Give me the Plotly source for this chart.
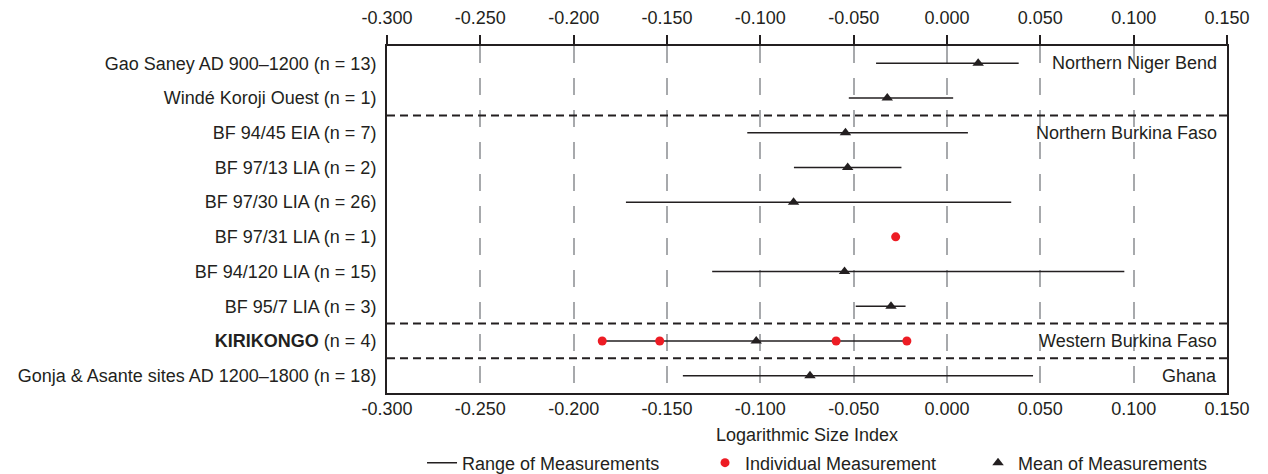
import plotly.graph_objects as go

# ---------------- data ----------------
sites = [
    "Gao Saney AD 900–1200 (n = 13)",
    "Windé Koroji Ouest (n = 1)",
    "BF 94/45 EIA (n = 7)",
    "BF 97/13 LIA (n = 2)",
    "BF 97/30 LIA (n = 26)",
    "BF 97/31 LIA (n = 1)",
    "BF 94/120 LIA (n = 15)",
    "BF 95/7 LIA (n = 3)",
    "<b>KIRIKONGO</b> (n = 4)",
    "Gonja & Asante sites AD 1200–1800 (n = 18)",
]
regions = [
    "Northern Niger Bend", "Northern Niger Bend",
    "Northern Burkina Faso", "Northern Burkina Faso", "Northern Burkina Faso",
    "Northern Burkina Faso", "Northern Burkina Faso", "Northern Burkina Faso",
    "Western Burkina Faso", "Ghana",
]
range_min = [-0.038, -0.0526, -0.107, -0.082, -0.172, None, -0.1258, -0.0489, -0.1847, -0.1415]
range_max = [0.0384, 0.0033, 0.0112, -0.0244, 0.0344, None, 0.095, -0.0222, -0.0215, 0.0461]
mean_vals = [0.0167, -0.032, -0.0544, -0.0532, -0.0822, None, -0.0549, -0.030, -0.1022, -0.0734]

indiv_sites = [5, 8, 8, 8, 8]
indiv_vals = [-0.0275, -0.1847, -0.1539, -0.0594, -0.0215]

x_ticks = [-0.30, -0.25, -0.20, -0.15, -0.10, -0.05, 0.0, 0.05, 0.10, 0.15]
x_ticktext = ["-0.300", "-0.250", "-0.200", "-0.150", "-0.100", "-0.050", "0.000", "0.050", "0.100", "0.150"]

# ---------------- styling ----------------
INK = "#231f20"
RED = "#ed1c24"
FONT = "Arial, Liberation Sans, sans-serif"

fig = go.Figure()

# range lines
lx, ly = [], []
for i, (a, b) in enumerate(zip(range_min, range_max)):
    if a is None:
        continue
    lx += [a, b, None]
    ly += [i, i, None]
fig.add_trace(go.Scatter(
    x=lx, y=ly, mode="lines", line=dict(color=INK, width=1.5),
    name="Range of Measurements", legend="legend", hoverinfo="skip",
))

# individual measurements
fig.add_trace(go.Scatter(
    x=indiv_vals, y=indiv_sites, mode="markers",
    marker=dict(color=RED, size=9, symbol="circle"),
    name="Individual Measurement", legend="legend2",
))

# means
mx = [m for m in mean_vals if m is not None]
my = [i for i, m in enumerate(mean_vals) if m is not None]
fig.add_trace(go.Scatter(
    x=mx, y=my, mode="markers",
    marker=dict(color=INK, size=10, symbol="triangle-up"),
    name="Mean of Measurements", legend="legend3",
))

# dummy trace for top axis
fig.add_trace(go.Scatter(x=[x_ticks[0]], y=[0], xaxis="x2", mode="markers",
                         marker=dict(opacity=0), showlegend=False, hoverinfo="skip"))

# region separators
shapes = []
for i in range(1, len(regions)):
    if regions[i] != regions[i - 1]:
        shapes.append(dict(type="line", xref="x domain", yref="y", x0=0, x1=1,
                           y0=i - 0.5, y1=i - 0.5,
                           line=dict(color=INK, width=2, dash="8px,5px"), layer="above"))

# region labels
annotations = []
for i, r in enumerate(regions):
    if i == 0 or regions[i - 1] != r:
        annotations.append(dict(text=r, xref="x domain", yref="y", x=1, y=i,
                                xanchor="right", yanchor="middle", xshift=-8,
                                showarrow=False, font=dict(family=FONT, size=18, color=INK)))

leg_common = dict(orientation="h", xref="paper", yref="paper",
                  xanchor="left", yanchor="middle", y=-0.2017,
                  font=dict(family=FONT, size=18, color=INK),
                  bgcolor="rgba(0,0,0,0)", borderwidth=0)

fig.update_layout(
    width=1260, height=466,
    margin=dict(l=379, r=41, t=38, b=81, autoexpand=False),
    paper_bgcolor="white", plot_bgcolor="white",
    font=dict(family=FONT, size=18, color=INK),
    shapes=shapes, annotations=annotations,
    legend=dict(x=0.0417, **leg_common),
    legend2=dict(x=0.3786, **leg_common),
    legend3=dict(x=0.7036, **leg_common),
    xaxis=dict(
        range=[-0.30, 0.15], tickvals=x_ticks, ticktext=x_ticktext,
        showline=True, linecolor=INK, linewidth=2, mirror=True,
        showgrid=True, gridcolor="#a7a9ac", gridwidth=1.5, griddash="17px,15px",
        ticks="", zeroline=False, ticklabelstandoff=-2,
        tickfont=dict(family=FONT, size=18, color=INK),
        title=dict(text="Logarithmic Size Index", standoff=11,
                   font=dict(family=FONT, size=18, color=INK)),
    ),
    xaxis2=dict(
        range=[-0.30, 0.15], tickvals=x_ticks, ticktext=x_ticktext,
        overlaying="x", side="top", matches="x",
        showgrid=False, zeroline=False, showline=False,
        ticks="outside", ticklen=10, tickwidth=2, tickcolor=INK,
        ticklabelstandoff=4,
        tickfont=dict(family=FONT, size=18, color=INK),
    ),
    yaxis=dict(
        range=[len(sites) - 0.5, -0.5], tickvals=list(range(len(sites))), ticktext=sites,
        showline=True, linecolor=INK, linewidth=2, mirror=True,
        showgrid=False, zeroline=False, ticks="", ticklabelstandoff=5,
        tickfont=dict(family=FONT, size=18, color=INK),
    ),
)

fig.write_html("out.html")
